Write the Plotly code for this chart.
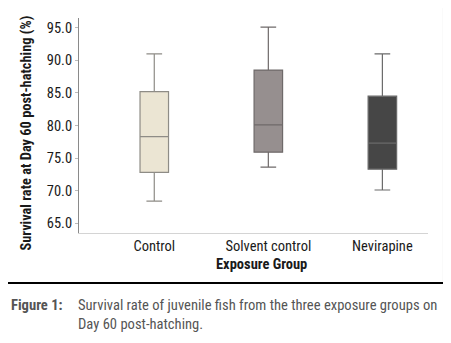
import plotly.graph_objects as go

categories = ["Control", "Solvent control", "Nevirapine"]
lower_whisker = [68.4, 73.6, 70.1]
q1_values = [72.8, 75.9, 73.3]
median_values = [78.3, 80.1, 77.3]
q3_values = [85.2, 88.5, 84.5]
upper_whisker = [91.0, 95.1, 91.0]
y_ticks = [65.0, 70.0, 75.0, 80.0, 85.0, 90.0, 95.0]

fills = ["#ebe5d3", "#968f8f", "#464646"]
lines = ["#8e8c86", "#6f6a6a", "#6a6a6a"]

FONT = "Liberation Sans Narrow, Arial Narrow, Roboto Condensed, sans-serif"

fig = go.Figure()
for i, cat in enumerate(categories):
    fig.add_trace(go.Box(
        x=[cat], q1=[q1_values[i]], median=[median_values[i]], q3=[q3_values[i]],
        lowerfence=[lower_whisker[i]], upperfence=[upper_whisker[i]],
        fillcolor=fills[i], line=dict(color=lines[i], width=1.2),
        width=0.25, whiskerwidth=0.55, boxpoints=False, showlegend=False,
        hoverinfo="skip",
    ))

# page body has an 8px default margin, so the figure is 8px smaller and offset
fig.update_layout(
    width=443, height=335,
    margin=dict(l=71, r=23, t=10, b=110),
    paper_bgcolor="white", plot_bgcolor="white",
    font=dict(family=FONT, size=14, color="#1a1a1a"),
    boxmode="overlay",
    xaxis=dict(
        type="category", categoryarray=categories, range=[-0.66, 2.4],
        showline=True, linecolor="#d4d4d4", linewidth=1, mirror=False,
        showgrid=False, zeroline=False, ticks="", ticklabelstandoff=0,
        automargin=False,
        tickfont=dict(size=14.5),
    ),
    yaxis=dict(
        range=[63.5, 96.5], tickvals=y_ticks,
        ticktext=[f"{v:.1f}" for v in y_ticks],
        showline=True, linecolor="#8a8a8a", linewidth=1,
        ticks="outside", ticklen=3, tickcolor="#bbbbbb",
        showgrid=False, zeroline=False, automargin=False,
        tickfont=dict(size=14.5),
    ),
)

fig.add_annotation(xref="paper", yref="paper", x=0.524, y=-0.145,
                   xanchor="center", yanchor="middle", showarrow=False,
                   text="<b>Exposure Group</b>", font=dict(family=FONT, size=14.5, color="#1a1a1a"))
fig.add_annotation(xref="paper", yref="paper", x=-0.149, y=0.467,
                   xanchor="center", yanchor="middle", showarrow=False, textangle=-90,
                   text="<b>Survival rate at Day 60 post-hatching (%)</b>",
                   font=dict(family=FONT, size=14.4, color="#1a1a1a"))

fig.add_shape(type="rect", xref="paper", yref="paper",
              x0=-0.2135, x1=1.0458, y0=-0.2326, y1=1.0628,
              line=dict(color="black", width=2), fillcolor="rgba(0,0,0,0)", layer="below")

fig.add_annotation(xref="paper", yref="paper", x=-0.201, y=-0.335,
                   xanchor="left", yanchor="middle", showarrow=False,
                   text="<b>Figure 1:</b>", font=dict(family=FONT, size=14.6, color="#555555"))
fig.add_annotation(xref="paper", yref="paper", x=-0.009, y=-0.378,
                   xanchor="left", yanchor="middle", showarrow=False, align="left",
                   text="Survival rate of juvenile fish from the three exposure groups on<br>Day 60 post-hatching.",
                   font=dict(family=FONT, size=14.6, color="#555555"))

fig.write_html("out.html")
